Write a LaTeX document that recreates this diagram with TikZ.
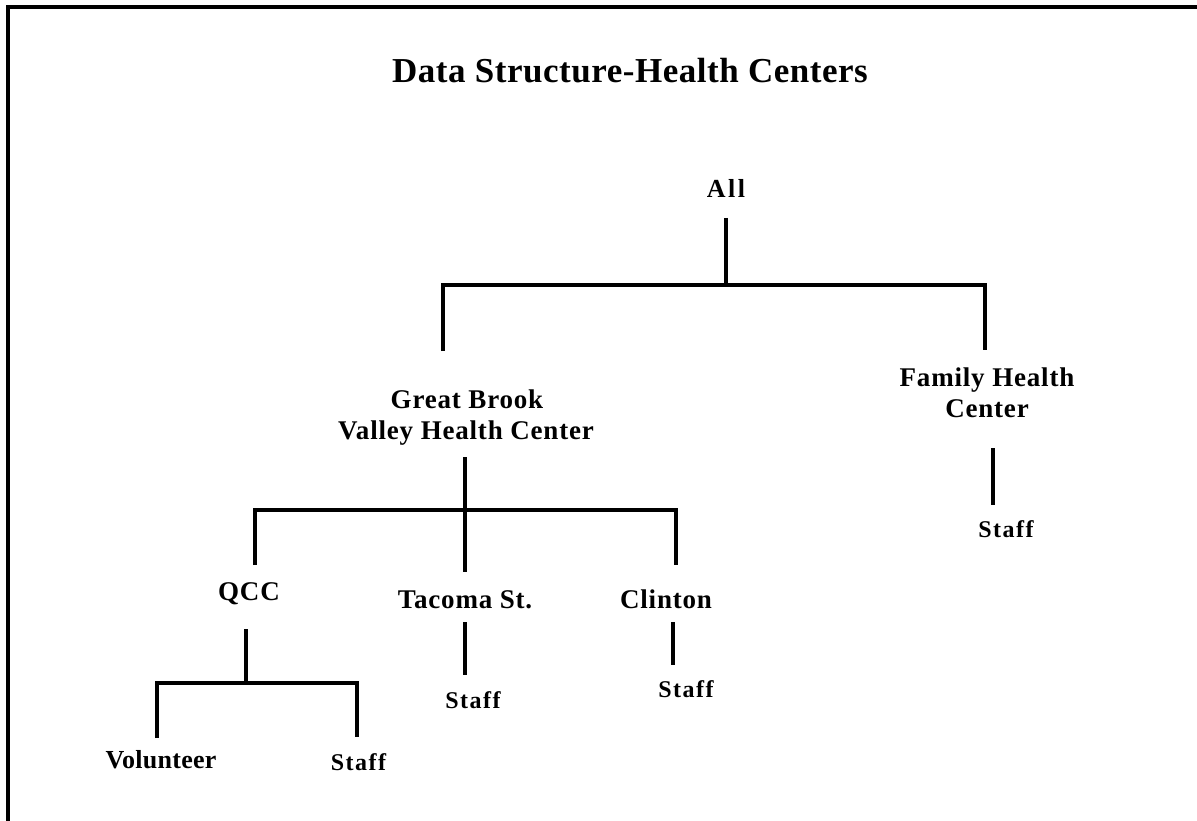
\documentclass[tikz,border=0pt]{standalone}
\usepackage{fontspec}
\setmainfont{Liberation Serif}
\begin{document}
\begin{tikzpicture}[x=1pt,y=-1pt,
  lbl/.style={font=\bfseries\fontsize{27}{31}\selectfont\addfontfeature{LetterSpace=3}, inner sep=0pt, anchor=base},
  smalllbl/.style={lbl, font=\bfseries\fontsize{24}{28}\selectfont\addfontfeature{LetterSpace=6}},
  titlelbl/.style={font=\bfseries\fontsize{35}{40}\selectfont\addfontfeature{LetterSpace=1.5}, inner sep=0pt, anchor=base west},
  link/.style={line width=4.5pt, line cap=butt, line join=miter},
  frame/.style={line width=4pt, line join=miter}]
\useasboundingbox (0,0) rectangle (1197,821);
\draw[frame] (8,830) -- (8,7.5) -- (1205,7.5);

\node[titlelbl] (title) at (392,83) {Data Structure-Health Centers};

\node[lbl, font=\bfseries\fontsize{26}{30}\selectfont\addfontfeature{LetterSpace=10}] (all) at (726,198) {All};
\node[lbl] (gb1) at (467,408) {Great Brook};
\node[lbl] (gb2) at (466,439) {Valley Health Center};
\node[lbl] (fh1) at (987,386) {Family Health};
\node[lbl] (fh2) at (987,417) {Center};
\node[lbl] (qcc) at (249,600) {QCC};
\node[lbl] (tac) at (465,608) {Tacoma St.};
\node[lbl] (cli) at (666,608) {Clinton};
\node[lbl, font=\bfseries\fontsize{26}{30}\selectfont\addfontfeature{LetterSpace=1}] (vol) at (161,768) {Volunteer};
\node[smalllbl] (qstaff) at (358.5,770) {Staff};
\node[smalllbl] (tstaff) at (473,708) {Staff};
\node[smalllbl] (cstaff) at (686,697) {Staff};
\node[smalllbl] (fstaff) at (1006,537) {Staff};

% connector end points
\coordinate (allB) at (726,218);
\coordinate (j0) at (726,285);
\coordinate (gbT) at (443,351);
\coordinate (fhT) at (985,350);
\coordinate (gbB) at (465,457);
\coordinate (j1) at (465,510);
\coordinate (tacT) at (465,572);
\coordinate (qccT) at (255,565);
\coordinate (cliT) at (676,565);
\coordinate (qccB) at (246,629);
\coordinate (j2) at (246,683);
\coordinate (volT) at (157,738);
\coordinate (qsT) at (357,737);
\coordinate (tacB) at (465,622);
\coordinate (tsT) at (465,675);
\coordinate (cliB) at (673,622);
\coordinate (csT) at (673,665);
\coordinate (fhB) at (993,448);
\coordinate (fsT) at (993,505);

\draw[link] (allB) -- (j0);
\draw[link] (gbT) |- (j0) -| (fhT);
\draw[link] (gbB) -- (tacT);
\draw[link] (qccT) |- (j1) -| (cliT);
\draw[link] (qccB) -- (j2);
\draw[link] (volT) |- (j2) -| (qsT);
\draw[link] (tacB) -- (tsT);
\draw[link] (cliB) -- (csT);
\draw[link] (fhB) -- (fsT);
\end{tikzpicture}
\end{document}
